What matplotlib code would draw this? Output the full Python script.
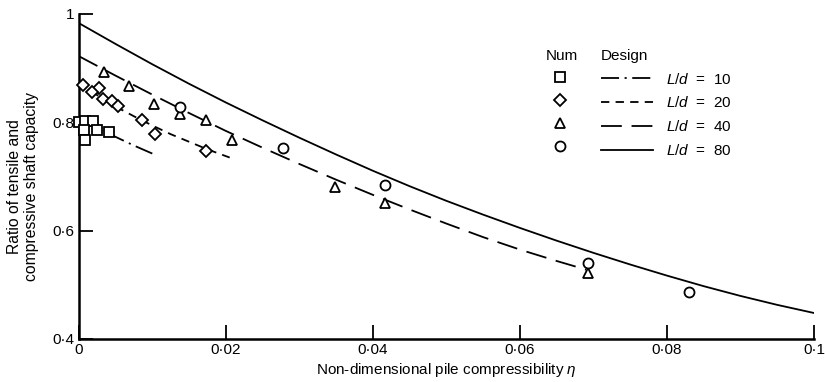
import matplotlib
matplotlib.use('Agg')
import matplotlib.pyplot as plt
from matplotlib.lines import Line2D

plt.rcParams['font.family'] = ['Liberation Sans', 'DejaVu Sans']
plt.rcParams['mathtext.fontset'] = 'custom'
plt.rcParams['mathtext.rm'] = 'Liberation Sans'
plt.rcParams['mathtext.it'] = 'Liberation Sans:italic'
plt.rcParams['lines.scale_dashes'] = False

# ---- data ----
sq_x = [0.0, 0.0008, 0.0019, 0.0007, 0.0024, 0.0041, 0.0008]
sq_y = [0.800, 0.802, 0.802, 0.785, 0.785, 0.783, 0.767]

dm_x = [0.0005, 0.0027, 0.0018, 0.0033, 0.0045, 0.0053, 0.0086, 0.0103, 0.0173]
dm_y = [0.869, 0.863, 0.856, 0.844, 0.839, 0.830, 0.804, 0.778, 0.748]

tr_x = [0.0034, 0.0068, 0.0102, 0.0137, 0.0173, 0.0208, 0.0348, 0.0416, 0.0693]
tr_y = [0.893, 0.867, 0.833, 0.815, 0.804, 0.767, 0.681, 0.652, 0.522]

ci_x = [0.0137, 0.0278, 0.0416, 0.0693, 0.0830]
ci_y = [0.828, 0.752, 0.685, 0.541, 0.487]

c10_x = [0.0, 0.0025, 0.005, 0.0075, 0.0102]
c10_y = [0.804, 0.788, 0.773, 0.757, 0.741]

c20_x = [0.0, 0.0025, 0.005, 0.0075, 0.010, 0.0125, 0.015, 0.0175, 0.0205]
c20_y = [0.872, 0.850, 0.829, 0.811, 0.794, 0.778, 0.764, 0.750, 0.735]

c40_x = [0.0, 0.005, 0.01, 0.015, 0.02, 0.025, 0.03, 0.035, 0.04, 0.045,
         0.05, 0.055, 0.06, 0.065, 0.069]
c40_y = [0.922, 0.886, 0.851, 0.817, 0.784, 0.753, 0.723, 0.694, 0.666, 0.639,
         0.613, 0.588, 0.565, 0.544, 0.528]

c80_x = [0.0, 0.005, 0.01, 0.015, 0.02, 0.025, 0.03, 0.035, 0.04, 0.045, 0.05,
         0.055, 0.06, 0.065, 0.07, 0.075, 0.08, 0.085, 0.09, 0.095, 0.1]
c80_y = [0.983, 0.9445, 0.907, 0.871, 0.8365, 0.8035, 0.7715, 0.7405, 0.7105, 0.682, 0.655,
         0.6295, 0.605, 0.5815, 0.559, 0.5375, 0.517, 0.4975, 0.4795, 0.463, 0.448]

xticks = [0, 0.02, 0.04, 0.06, 0.08, 0.1]
xtick_labels = ['0', '0·02', '0·04', '0·06', '0·08', '0·1']
yticks = [0.4, 0.6, 0.8, 1.0]
ytick_labels = ['0·4', '0·6', '0·8', '1']
design_labels = ['$L/d$  =  10', '$L/d$  =  20', '$L/d$  =  40', '$L/d$  =  80']

# ---- figure ----
fig = plt.figure(figsize=(8.25, 3.82), dpi=100)
ax = fig.add_axes([79/825, 1-339/382, (814-79)/825, (339-14)/382])

lw = 1.3
l10, = ax.plot(c10_x, c10_y, color='black', lw=lw, dashes=(13, 4, 1.5, 4))
l20, = ax.plot(c20_x, c20_y, color='black', lw=lw, dashes=(6, 4.5))
l40, = ax.plot(c40_x, c40_y, color='black', lw=lw, dashes=(15, 7))
l80, = ax.plot(c80_x, c80_y, color='black', lw=lw)

mk = dict(linestyle='none', markerfacecolor='white', markeredgecolor='black',
          markeredgewidth=1.3, clip_on=False, zorder=3)
ax.plot(sq_x, sq_y, marker='s', markersize=7.2, **mk)
ax.plot(dm_x, dm_y, marker='D', markersize=6.5, **mk)
ax.plot(tr_x, tr_y, marker='^', markersize=7, **mk)
ax.plot(ci_x, ci_y, marker='o', markersize=7.2, **mk)

ax.set_xlim(0, 0.1)
ax.set_ylim(0.4, 1.0)
ax.set_xticks(xticks)
ax.set_xticklabels(xtick_labels)
ax.set_yticks(yticks)
ax.set_yticklabels(ytick_labels)
ax.tick_params(direction='in', length=10, width=1.3, labelsize=11, pad=3, colors='black')
for s in ['top', 'right']:
    ax.spines[s].set_visible(False)
for s in ['left', 'bottom']:
    ax.spines[s].set_linewidth(1.8)

ax.set_xlabel('Non-dimensional pile compressibility $\\eta$', fontsize=11, labelpad=3)
ax.set_ylabel('Ratio of tensile and\ncompressive shaft capacity', fontsize=11.3)
ax.yaxis.set_label_coords(-0.054, 0.47)

# ---- legends ----
mh = [Line2D([], [], marker=m, markersize=s, linestyle='none',
             markerfacecolor='white', markeredgecolor='black', markeredgewidth=1.3)
      for m, s in [('s', 7.2), ('D', 6.5), ('^', 7), ('o', 7.2)]]
legA = fig.legend(mh, [' '] * 4, title='Num', loc='upper center',
                  bbox_to_anchor=(562/825, 1-41/382), frameon=False, fontsize=11,
                  title_fontsize=11, handlelength=1.0, handletextpad=0.0,
                  borderpad=0, labelspacing=0.58)
legB = fig.legend([l10, l20, l40, l80], design_labels, title='Design', loc='upper left',
                  bbox_to_anchor=(593/825, 1-41/382), frameon=False, fontsize=11,
                  title_fontsize=11, handlelength=3.4, handletextpad=0.9,
                  borderpad=0, labelspacing=0.58, alignment='left')

fig.savefig('out.png', dpi=100)
